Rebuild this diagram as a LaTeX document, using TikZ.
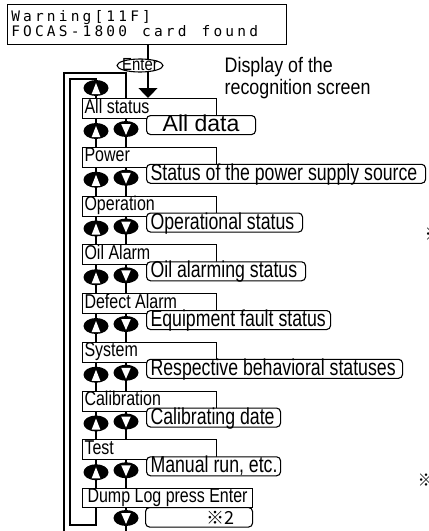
\documentclass[tikz,border=0pt]{standalone}
\usepackage{fontspec}
\usepackage{graphicx}
\setmainfont{Liberation Sans}
\newfontfamily\nar[FakeStretch=0.85]{Liberation Sans}
\newfontfamily\narr[FakeStretch=0.77]{Liberation Sans}
\newfontfamily\narst[FakeStretch=0.8]{Liberation Sans}
\newfontfamily\monofnt{DejaVu Sans Mono}
\newfontfamily\cjk{Noto Sans CJK JP}
\usetikzlibrary{arrows.meta,shapes.geometric,calc}
\def\cellloop#1{\ifx#1\relax\else\makebox[11.9pt][c]{#1}\expandafter\cellloop\fi}
\newcommand\monoline[1]{\cellloop#1\relax}
\tikzset{
  link/.style={draw, line width=1.1pt},
  stbox/.style={draw, line width=1.1pt, rectangle, anchor=north west, fill=white,
    inner xsep=2pt, inner ysep=1.5pt, text height=13pt, text depth=4pt,
    font=\narst\fontsize{20}{20}\selectfont},
  dtbox/.style={draw, line width=1.1pt, rounded corners=4pt, anchor=north west, fill=white,
    inner xsep=4pt, inner ysep=0.5pt, text height=15.5pt, text depth=2.5pt,
    font=\narr\fontsize{23}{23}\selectfont},
  btn/.style={ellipse, fill=black, minimum width=25pt, minimum height=16pt, inner sep=0pt},
  montext/.style={anchor=base west, inner sep=0pt, font=\monofnt\fontsize{14.5}{14.5}\selectfont},
  disptext/.style={anchor=base west, inner sep=0pt, font=\nar\fontsize{21}{21}\selectfont},
  refmark/.style={inner sep=0pt, font=\cjk\fontsize{17}{17}\selectfont},
}
\begin{document}
\begin{tikzpicture}[x=1pt, y=-1pt]
\useasboundingbox (0,0) rectangle (429,531);
% top screen
\node[draw, line width=1.1pt, anchor=north west, minimum width=279pt, minimum height=40pt, inner sep=0pt] (top) at (7,3.5) {};
\node[montext] (w1) at (9.5,21.5) {\monoline{Warning[11F]}};
\node[montext] (w2) at (9.5,36) {\monoline{FOCAS-1800~card~found}};
% helper coordinates
\coordinate (ux) at (96,0);
\coordinate (dx) at (126,0);
\coordinate (ex) at (148,0);
\coordinate (ot) at (64,73);
\coordinate (ob) at (64,531);
\coordinate (it) at (70,79);
\coordinate (ib) at (70,525);
\coordinate (db) at (126,531);
% status boxes
\node[stbox] (s0) at (82,98) {\makebox[130pt][l]{All status}};
\node[stbox] (s1) at (82,146.75) {\makebox[130pt][l]{Power}};
\node[stbox] (s2) at (82,195.5) {\makebox[130pt][l]{Operation}};
\node[stbox] (s3) at (82,244.25) {\makebox[130pt][l]{Oil Alarm}};
\node[stbox] (s4) at (82,293) {\makebox[130pt][l]{Defect Alarm}};
\node[stbox] (s5) at (82,341.75) {\makebox[130pt][l]{System}};
\node[stbox] (s6) at (82,390.5) {\makebox[130pt][l]{Calibration}};
\node[stbox] (s7) at (82,439.25) {\makebox[130pt][l]{Test}};
\node[stbox, text height=12.5pt, text depth=3.5pt] (s8) at (82,488) {\makebox[166pt][c]{Dump Log press Enter}};
% connectors
\draw[link, -{Triangle[width=19pt,length=10pt]}] (top.south -| ex) -- (s0.north -| ex);
\draw[link] (s0.north -| dx) |- (ot) -- (ob);
\draw[link] (s0.north -| ux) |- (it) -- (ib) -| (s8.south -| ux);
\foreach \a/\b in {s0/s1,s1/s2,s2/s3,s3/s4,s4/s5,s5/s6,s6/s7,s7/s8}{
  \draw[link] (\a.south -| ux) -- (\b.north -| ux);
  \draw[link] (\a.south -| dx) -- (\b.north -| dx);
}
\draw[link] (s8.south -| dx) -- (db);
% detail boxes
\node[dtbox] (d0) at (146,115) {\makebox[101pt][c]{\scalebox{1.3}[1]{All data}}};
\node[dtbox] (d1) at (146,163.75) {\makebox[271pt][l]{Status of the power supply source}};
\node[dtbox] (d2) at (146,212.5) {\makebox[148pt][l]{Operational status}};
\node[dtbox] (d3) at (146,261.25) {\makebox[151pt][l]{Oil alarming status}};
\node[dtbox] (d4) at (146,310) {\makebox[176pt][l]{Equipment fault status}};
\node[dtbox] (d5) at (146,358.75) {\makebox[248pt][l]{Respective behavioral statuses}};
\node[dtbox] (d6) at (146,407.5) {\makebox[126pt][l]{Calibrating date}};
\node[dtbox] (d7) at (146,456.25) {\makebox[126pt][l]{Manual run, etc.}};
\node[dtbox, text height=16pt] (d8) at (145,507) {\makebox[99pt][r]{\cjk\fontsize{18}{18}\selectfont ※2\hspace{14pt}}};
% buttons
\foreach \n/\y in {ua/88, u0/131, u1/179.75, u2/228.5, u3/277.25, u4/326, u5/374.75, u6/423.5, u7/472.25}{
  \node[btn] (\n) at (96,\y) {};
  \fill[white] ($(\n)+(-4.3,6)$) -- ($(\n)+(4.3,6)$) -- ($(\n)+(0,-5)$) -- cycle;
}
\foreach \n/\y in {v0/129, v1/177.75, v2/226.5, v3/275.25, v4/324, v5/372.75, v6/421.5, v7/470.25, v8/518}{
  \node[btn] (\n) at (126,\y) {};
  \fill[white] ($(\n)+(-4.8,-5)$) -- ($(\n)+(4.8,-5)$) -- ($(\n)+(0,6)$) -- cycle;
}
% Enter
\node[draw, line width=1.1pt, ellipse, fill=white, minimum width=46pt, minimum height=13pt, inner sep=0pt,
  text height=9pt, text depth=0pt, font=\nar\fontsize{17.5}{17.5}\selectfont] (enter) at (140,65.5) {\makebox[28pt][c]{Enter}};
% annotation
\node[disptext] (disp1) at (224.5,72.5) {Display of the};
\node[disptext] (disp2) at (224.5,94) {recognition screen};
% clipped reference marks
\node[refmark] (m1) at (433,234) {※};
\node[refmark] (m2) at (426,480) {※};
\end{tikzpicture}
\end{document}
